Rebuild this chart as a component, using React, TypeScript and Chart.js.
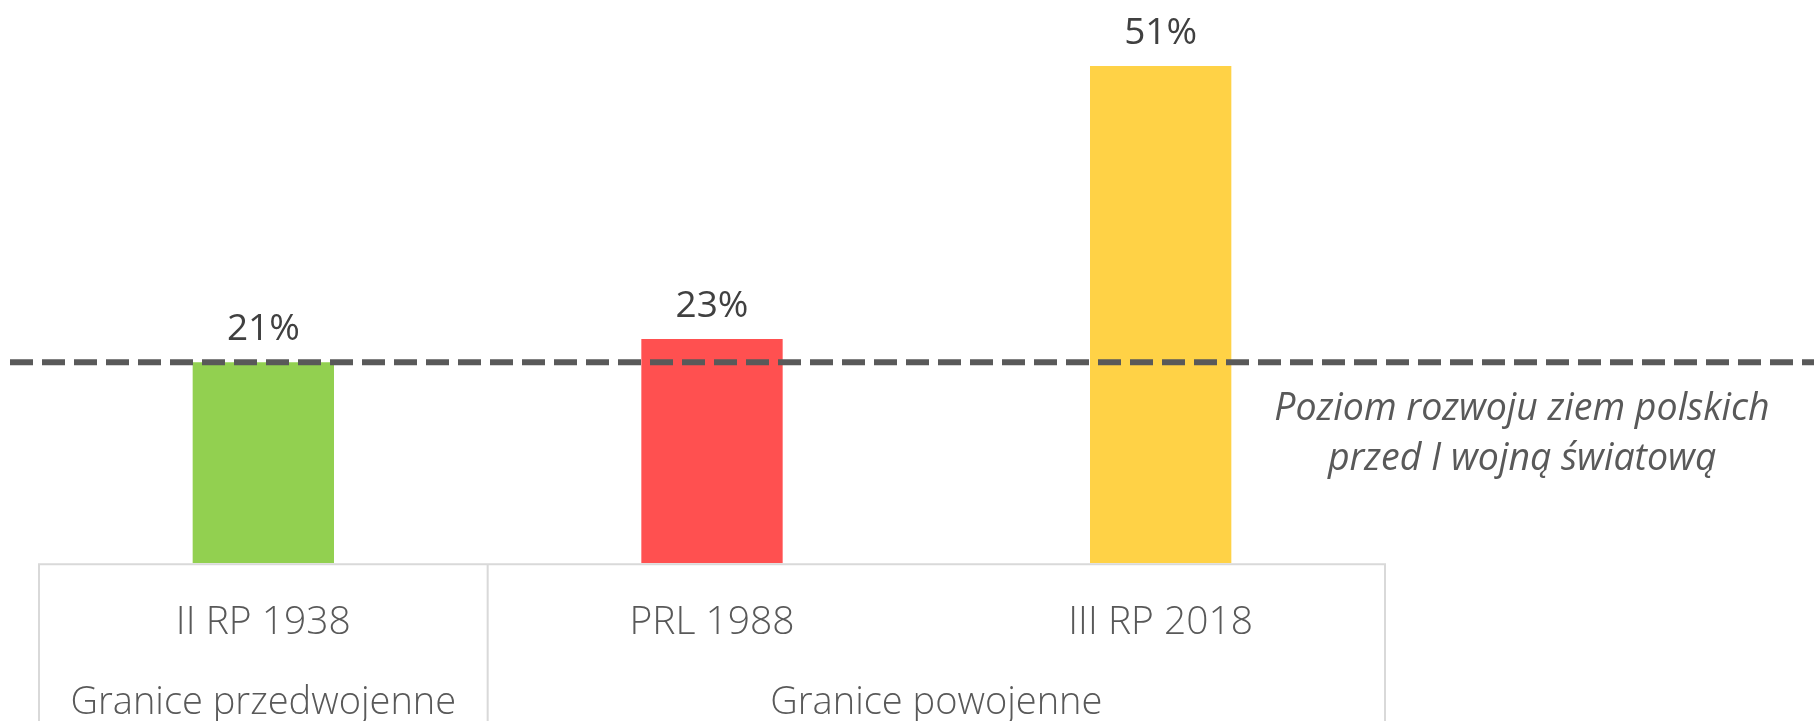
import React, { useEffect, useRef } from "react";
import { Chart, registerables } from "chart.js";
Chart.register(...registerables);

const categories = ["II RP 1938", "PRL 1988", "III RP 2018"];
const values = [20.6, 23, 51];
const valueLabels = ["21%", "23%", "51%"];
const barColors = ["#92D050", "#FF5050", "#FFD246"];
const groupLabels = ["Granice przedwojenne", "Granice powojenne"];
const groupStart = [0, 1];
const groupEnd = [0, 2];
const referenceValue = 20.6;
const referenceNote = ["Poziom rozwoju ziem polskich", "przed I wojną światową"];

const FONT = "'Open Sans', 'Noto Sans', sans-serif";

const overlay = {
  id: "overlay",
  afterDatasetsDraw(chart: any) {
    const { ctx, chartArea, scales } = chart;
    const x = scales.x;
    const y = scales.y;
    const meta = chart.getDatasetMeta(0);
    ctx.save();

    // value labels
    ctx.font = `37px ${FONT}`;
    ctx.fillStyle = "#404040";
    ctx.textAlign = "center";
    ctx.textBaseline = "middle";
    meta.data.forEach((bar: any, i: number) => {
      ctx.fillText(valueLabels[i], bar.x, bar.y - 33);
    });

    // reference dashed line
    const ry = y.getPixelForValue(referenceValue);
    ctx.strokeStyle = "#595959";
    ctx.lineWidth = 6;
    ctx.setLineDash([23, 9]);
    ctx.beginPath();
    ctx.moveTo(10, ry);
    ctx.lineTo(chart.width, ry);
    ctx.stroke();
    ctx.setLineDash([]);

    // reference annotation
    ctx.font = `italic 37.5px ${FONT}`;
    ctx.fillStyle = "#595959";
    const ax = chartArea.right + 137;
    referenceNote.forEach((t, i) => ctx.fillText(t, ax, ry + 47 + i * 50));

    // axis box
    const step = x.getPixelForValue(1) - x.getPixelForValue(0);
    const half = step / 2;
    const top = chartArea.bottom;
    const bottom = chart.height;
    ctx.strokeStyle = "#D9D9D9";
    ctx.lineWidth = 2;
    ctx.beginPath();
    ctx.moveTo(x.getPixelForValue(0) - half, top + 1);
    ctx.lineTo(x.getPixelForValue(categories.length - 1) + half, top + 1);
    groupStart.forEach((s) => {
      const px = x.getPixelForValue(s) - half;
      ctx.moveTo(px, top);
      ctx.lineTo(px, bottom);
    });
    const rx = x.getPixelForValue(groupEnd[groupEnd.length - 1]) + half;
    ctx.moveTo(rx, top);
    ctx.lineTo(rx, bottom);
    ctx.stroke();

    // group labels
    ctx.font = `300 38px ${FONT}`;
    ctx.fillStyle = "#595959";
    groupLabels.forEach((g, i) => {
      const cx = (x.getPixelForValue(groupStart[i]) + x.getPixelForValue(groupEnd[i])) / 2;
      ctx.fillText(g, cx, top + 140);
    });

    ctx.restore();
  },
};

export default function App() {
  const ref = useRef<HTMLCanvasElement>(null);
  useEffect(() => {
    document.body.style.margin = "0";
    const chart = new Chart(ref.current!, {
      type: "bar",
      data: {
        labels: categories,
        datasets: [
          {
            data: values,
            backgroundColor: barColors,
            borderWidth: 0,
            categoryPercentage: 1,
            barPercentage: 0.315,
          },
        ],
      },
      options: {
        animation: false,
        responsive: true,
        maintainAspectRatio: false,
        layout: { padding: { left: 39, right: 429, top: 27, bottom: 39 } },
        plugins: { legend: { display: false }, tooltip: { enabled: false } },
        scales: {
          y: { display: false, min: 0, max: 55 },
          x: {
            grid: { display: false, drawTicks: false },
            border: { display: false },
            ticks: {
              padding: 36,
              maxRotation: 0,
              autoSkip: false,
              color: "#595959",
              font: { family: FONT, size: 39, weight: "300" as any },
            },
          },
        },
      },
      plugins: [overlay],
    });
    return () => chart.destroy();
  }, []);
  return (
    <div style={{ width: 1814, height: 721, position: "relative", background: "#fff" }}>
      <canvas ref={ref} />
    </div>
  );
}
